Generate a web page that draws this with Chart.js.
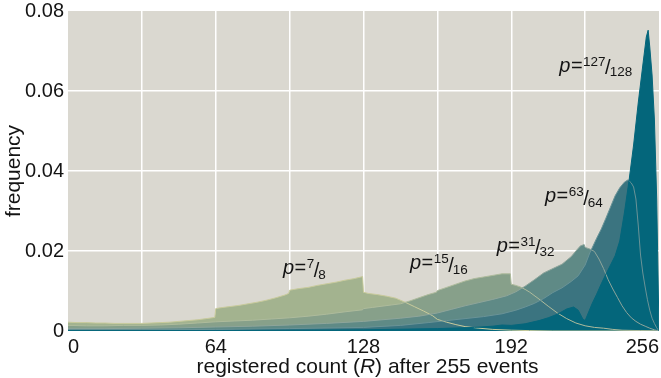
<!DOCTYPE html>
<html>
<head>
<meta charset="utf-8">
<script src="https://cdn.jsdelivr.net/npm/chart.js@4/dist/chart.umd.min.js"></script>
<style>
  html, body { margin: 0; padding: 0; background: #ffffff; }
  canvas { display: block; }
</style>
</head>
<body>
<canvas id="chart" width="661" height="378"></canvas>
<script>
// Distribution of the registered count R after 255 events,
// one series per success probability p (R positions and frequencies).
const r78   = [0, 4, 8, 12, 16, 20, 24, 28, 32, 36, 40, 44, 48, 52, 56, 60, 63.6, 64, 66, 70, 74, 78, 82, 86, 90, 94, 95.6, 96, 100, 104, 108, 112, 116, 120, 124, 127.6, 128, 130, 134, 138, 142, 146, 150, 154, 158, 160, 164, 168, 172, 178, 184, 192, 200, 210, 256];
const f78   = [0.0022, 0.0021, 0.0021, 0.0020, 0.0020, 0.0019, 0.0019, 0.0019, 0.0019, 0.0020, 0.0021, 0.0022, 0.0024, 0.0026, 0.0028, 0.0031, 0.0034, 0.0056, 0.0058, 0.0061, 0.0064, 0.0068, 0.0072, 0.0077, 0.0083, 0.0090, 0.0094, 0.0102, 0.0106, 0.0109, 0.0114, 0.0118, 0.0122, 0.0127, 0.0131, 0.0136, 0.0097, 0.0094, 0.0091, 0.0087, 0.0082, 0.0072, 0.0061, 0.0050, 0.0038, 0.0029, 0.0022, 0.0016, 0.0011, 0.0007, 0.0004, 0.0002, 0.0001, 0, 0];

const r1516 = [0, 8, 16, 24, 32, 40, 48, 56, 64, 72, 80, 88, 96, 104, 112, 120, 127.6, 128, 132, 136, 140, 144, 148, 152, 156, 159.6, 160, 164, 168, 172, 176, 180, 184, 188, 191.6, 192, 194, 196, 198, 200, 204, 208, 212, 216, 220, 224, 228, 232, 236, 240, 248, 256];
const f1516 = [0.0014, 0.0013, 0.0013, 0.0014, 0.0014, 0.0015, 0.0017, 0.0020, 0.0023, 0.0025, 0.0027, 0.0030, 0.0033, 0.0037, 0.0042, 0.0048, 0.0053, 0.0056, 0.0059, 0.0062, 0.0065, 0.0068, 0.0075, 0.0083, 0.0091, 0.0097, 0.0101, 0.0109, 0.0117, 0.0125, 0.0131, 0.0135, 0.0139, 0.0143, 0.0143, 0.0117, 0.0114, 0.0110, 0.0104, 0.0097, 0.0080, 0.0062, 0.0045, 0.0031, 0.0020, 0.0013, 0.0009, 0.0007, 0.0004, 0.0002, 0.0001, 0];

const r3132 = [0, 16, 32, 48, 64, 80, 96, 112, 128, 136, 144, 152, 160, 166, 172, 178, 184, 190, 194, 198, 202, 206, 210, 214, 218, 220, 222, 223.6, 224, 226, 228, 230, 232, 234, 236, 238, 240, 242, 244, 246, 248, 250, 252, 254, 256];
const f3132 = [0.0006, 0.0006, 0.0007, 0.0008, 0.0010, 0.0012, 0.0015, 0.0019, 0.0024, 0.0028, 0.0032, 0.0037, 0.0045, 0.0054, 0.0063, 0.0071, 0.0079, 0.0088, 0.0098, 0.0112, 0.0128, 0.0145, 0.0156, 0.0167, 0.0186, 0.0200, 0.0213, 0.0216, 0.0209, 0.0205, 0.0199, 0.0180, 0.0156, 0.0128, 0.0105, 0.0084, 0.0063, 0.0046, 0.0033, 0.0024, 0.0017, 0.0012, 0.0007, 0.0003, 0];

const r6364 = [0, 32, 64, 96, 128, 144, 156, 164, 172, 180, 188, 194, 198, 202, 206, 210, 214, 218, 221, 224, 226, 229, 231, 233, 235, 237, 239, 241, 242.6, 244, 245, 246, 247, 248, 249, 250, 251, 252, 253, 254, 255, 256];
const f6364 = [0.0003, 0.0003, 0.0004, 0.0006, 0.0009, 0.0014, 0.0021, 0.0026, 0.0031, 0.0036, 0.0043, 0.0052, 0.0060, 0.0069, 0.0081, 0.0096, 0.0108, 0.0124, 0.0138, 0.0165, 0.0195, 0.0232, 0.0255, 0.0282, 0.0310, 0.0338, 0.0358, 0.0372, 0.0378, 0.0370, 0.0360, 0.0330, 0.0265, 0.0190, 0.0145, 0.0110, 0.0078, 0.0052, 0.0032, 0.0019, 0.0008, 0];

const r127  = [0, 64, 128, 160, 176, 184, 188, 192, 198, 204, 208, 212, 216, 219, 221, 223, 224, 225, 227, 229, 231, 233, 235, 237, 239, 241, 243, 245, 247, 249, 250.5, 251.3, 252, 253, 254, 255, 256];
const f127  = [0.0001, 0.0001, 0.0003, 0.0006, 0.0009, 0.0012, 0.0015, 0.0014, 0.0018, 0.0026, 0.0033, 0.0042, 0.0055, 0.0060, 0.0052, 0.0030, 0.0026, 0.0040, 0.0068, 0.0092, 0.0118, 0.0142, 0.0165, 0.0188, 0.0225, 0.0295, 0.0375, 0.0465, 0.0570, 0.0665, 0.0735, 0.0752, 0.0710, 0.0640, 0.0530, 0.0330, 0];

// Series names (numerator / denominator of p) and axis ticks
const pNum = ['7', '15', '31', '63', '127'];
const pDen = ['8', '16', '32', '64', '128'];
const xTicks = [0, 64, 128, 192, 256];
const yTicks = [0, 0.02, 0.04, 0.06, 0.08];

// Where each p label sits, in data coordinates (R, frequency) of its left baseline
const labelAnchors = [[93.1, 0.0142], [148.1, 0.0154], [185.7, 0.0198], [206.6, 0.0322], [212.8, 0.0648]];

const fillColors = ['#a3b38f', '#87a08a', '#5f8a86', '#3b7480', '#04667b'];
const lineColors = ['#c9cb9c', '#aebb9c', '#8ea59b', '#6a9397', '#04667b'];

const FONT = '"Liberation Sans", Arial, Helvetica, sans-serif';
const TEXT = '#141414';

function pairs(rs, fs) {
  return rs.map((r, i) => ({ x: r, y: fs[i] }));
}
const seriesR = [r78, r1516, r3132, r6364, r127];
const seriesF = [f78, f1516, f3132, f6364, f127];

const datasets = seriesR.map((rs, i) => ({
  label: 'p=' + pNum[i] + '/' + pDen[i],
  data: pairs(rs, seriesF[i]),
  fill: 'origin',
  backgroundColor: fillColors[i],
  borderColor: lineColors[i],
  borderWidth: 1,
  pointRadius: 0,
  tension: 0,
  order: seriesR.length - i   // higher p drawn on top
}));

// Panel background behind the grid
const panelBg = {
  id: 'panelBg',
  beforeDraw(chart) {
    const { ctx, chartArea: a } = chart;
    ctx.save();
    ctx.fillStyle = '#dad8d0';
    ctx.fillRect(a.left, a.top, a.right - a.left, a.bottom - a.top);
    ctx.restore();
  }
};

// "p = num/den" labels with superscript numerator and subscript denominator
const fracLabels = {
  id: 'fracLabels',
  afterDatasetsDraw(chart) {
    const { ctx, scales: { x, y } } = chart;
    ctx.save();
    ctx.fillStyle = TEXT;
    ctx.textAlign = 'left';
    ctx.textBaseline = 'alphabetic';
    labelAnchors.forEach(([r, f], i) => {
      let px = x.getPixelForValue(r);
      const py = y.getPixelForValue(f);
      ctx.font = 'italic 20px ' + FONT;
      ctx.fillText('p', px, py);
      px += ctx.measureText('p').width + 0.5;
      ctx.font = '20px ' + FONT;
      ctx.fillText('=', px, py);
      px += ctx.measureText('=').width + 0.5;
      ctx.font = '13.5px ' + FONT;
      ctx.fillText(pNum[i], px, py - 6);
      px += ctx.measureText(pNum[i]).width;
      ctx.font = '20px ' + FONT;
      ctx.fillText('/', px - 0.5, py + 2.5);
      px += ctx.measureText('/').width - 1.5;
      ctx.font = '13.5px ' + FONT;
      ctx.fillText(pDen[i], px, py + 4.5);
    });
    ctx.restore();
  }
};

// x-axis title with an italic R
const xTitle = {
  id: 'xTitle',
  afterDraw(chart) {
    const { ctx, chartArea: a } = chart;
    const parts = [['registered count (', false], ['R', true], [') after 255 events', false]];
    ctx.save();
    ctx.fillStyle = TEXT;
    ctx.textAlign = 'left';
    ctx.textBaseline = 'alphabetic';
    let total = 0;
    parts.forEach(([t, it]) => {
      ctx.font = (it ? 'italic ' : '') + '21px ' + FONT;
      total += ctx.measureText(t).width;
    });
    let px = (a.left + a.right) / 2 + 4 - total / 2;
    parts.forEach(([t, it]) => {
      ctx.font = (it ? 'italic ' : '') + '21px ' + FONT;
      ctx.fillText(t, px, 372.5);
      px += ctx.measureText(t).width;
    });
    ctx.restore();
  }
};

const edgeClear = (lo, hi) => (c) =>
  (c.tick && (Math.abs(c.tick.value - lo) < 1e-9 || Math.abs(c.tick.value - hi) < 1e-9)) ? 'rgba(0,0,0,0)' : '#ffffff';

new Chart(document.getElementById('chart'), {
  type: 'line',
  data: { datasets },
  plugins: [panelBg, fracLabels, xTitle],
  options: {
    responsive: false,
    devicePixelRatio: 1,
    animation: false,
    layout: { padding: { top: 11, right: 2, left: 0, bottom: 0 } },
    plugins: {
      legend: { display: false },
      tooltip: { enabled: false },
      filler: { drawTime: 'beforeDatasetsDraw' }
    },
    scales: {
      x: {
        type: 'linear',
        min: 0,
        max: 256,
        afterBuildTicks(scale) {
          const t = [];
          for (let v = 0; v <= 256; v += 32) t.push({ value: v });
          scale.ticks = t;
        },
        ticks: {
          autoSkip: false,
          maxRotation: 0,
          align: 'inner',
          padding: 4,
          color: TEXT,
          font: { family: FONT, size: 20 },
          callback: (v) => xTicks.includes(v) ? String(v) : ''
        },
        grid: { color: edgeClear(0, 256), lineWidth: 1.5, drawTicks: false },
        border: { display: false },
        afterFit(scale) {
          scale.height = 47;
          scale.paddingLeft = 0;
          scale.paddingRight = 0;
        }
      },
      y: {
        type: 'linear',
        min: 0,
        max: 0.08,
        afterBuildTicks(scale) {
          scale.ticks = yTicks.map(v => ({ value: v }));
        },
        ticks: {
          padding: 4,
          color: TEXT,
          font: { family: FONT, size: 20 },
          callback: (v) => v === 0 ? '0' : Number(v).toFixed(2)
        },
        grid: { color: edgeClear(0, 0.08), lineWidth: 1.5, drawTicks: false },
        border: { display: false },
        title: {
          display: true,
          text: 'frequency',
          color: TEXT,
          font: { family: FONT, size: 21 },
          padding: { top: 2, bottom: 0 }
        },
        afterFit(scale) {
          scale.width = 68;
          scale.paddingTop = 0;
          scale.paddingBottom = 0;
        }
      }
    }
  }
});
</script>
</body>
</html>
